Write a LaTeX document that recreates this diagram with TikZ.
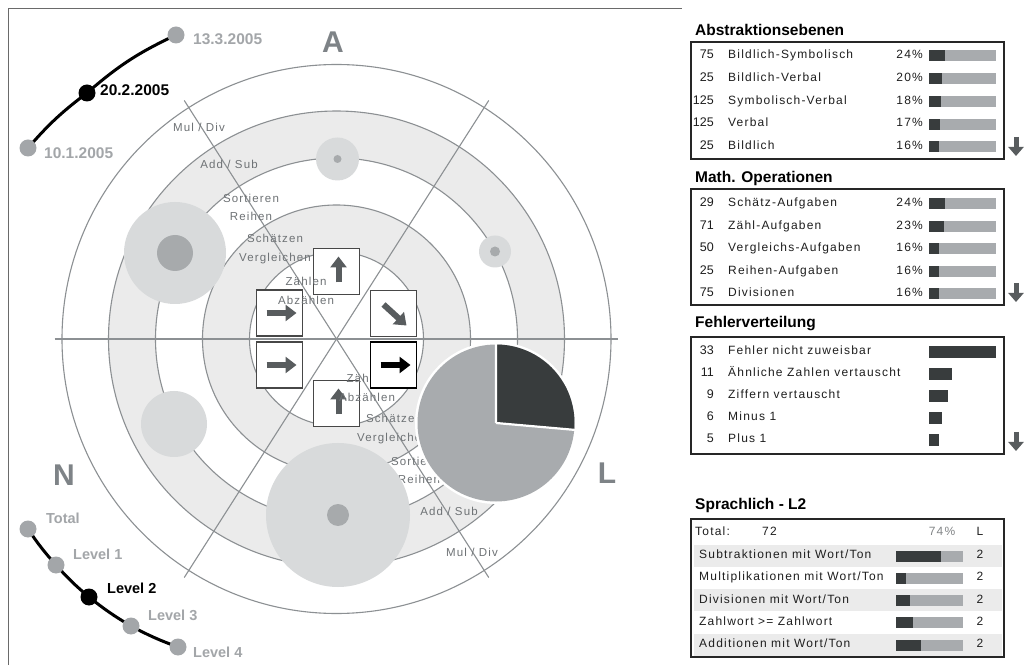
\documentclass[tikz,border=0pt]{standalone}
\usepackage{fontspec}
\setmainfont{Liberation Sans}
\newfontfamily\tsp[LetterSpace=10]{Liberation Sans}
\usetikzlibrary{arrows.meta}
\definecolor{ringline}{HTML}{8C9093}
\definecolor{band}{HTML}{EBEBEB}
\definecolor{bubble}{HTML}{D8DADB}
\definecolor{bubin}{HTML}{A7AAAC}
\definecolor{piedark}{HTML}{383C3D}
\definecolor{pielight}{HTML}{A8ABAE}
\definecolor{arrgray}{HTML}{585C5E}
\definecolor{bigl}{HTML}{7E8387}
\definecolor{dgray}{HTML}{A3A6A9}
\definecolor{ringtext}{HTML}{6E7275}
\definecolor{tabtext}{HTML}{1E1E1E}
\definecolor{rowbg}{HTML}{EBEBEB}
\definecolor{framecol}{HTML}{6A6A6A}
\newcommand\slh{/}
\begin{document}
\begin{tikzpicture}[x=1pt,y=1pt,
  ringc/.style={draw=ringline, line width=1.1pt},
  rlbl/.style={font=\tsp\fontsize{11.5}{13}\selectfont, text=ringtext, inner sep=0pt, anchor=mid},
  abox/.style={draw=black!72, line width=1.2pt, fill=white, minimum size=46pt, inner sep=0pt},
  hbox/.style={draw=black, line width=1.8pt, fill=white, minimum size=46pt, inner sep=0pt},
  arr/.style={draw=arrgray, line width=6pt, -{Triangle[width=16pt,length=11pt]}},
  harr/.style={draw=black, line width=6pt, -{Triangle[width=16pt,length=11pt]}},
  biglbl/.style={font=\bfseries\fontsize{30}{32}\selectfont, text=bigl, inner sep=0pt},
  gdot/.style={circle, fill=dgray, minimum size=17pt, inner sep=0pt},
  bdot/.style={circle, fill=black, minimum size=17pt, inner sep=0pt},
  datel/.style={font=\bfseries\fontsize{15.5}{17}\selectfont, text=dgray, anchor=mid west, inner sep=0pt},
  levl/.style={font=\bfseries\fontsize{14.5}{17}\selectfont, text=dgray, anchor=mid west, inner sep=0pt},
  ttl/.style={font=\bfseries\fontsize{15.5}{17}\selectfont, text=black, anchor=mid west, inner sep=0pt},
  tabt/.style={font=\tsp\fontsize{12}{14}\selectfont, text=tabtext, inner sep=0pt},
  tabn/.style={font=\fontsize{12.5}{14}\selectfont, text=tabtext, inner sep=0pt, anchor=mid east},
  tbox/.style={draw=black!85, line width=1.2pt},
  downarr/.style={draw=arrgray, line width=5pt, -{Triangle[width=15pt,length=9pt]}},
  curve/.style={draw=black, line width=3pt},
]
\useasboundingbox (0,0) rectangle (1029,665);
\fill[white] (0,0) rectangle (1029,665);
\draw[framecol, line width=1pt] (8,0) -- (8,656) -- (682,656);

% ---------- target ----------
\coordinate (C) at (336.5,326);
\fill[band, even odd rule] (C) circle (228) (C) circle (181);
\fill[band, even odd rule] (C) circle (134) (C) circle (87);
\foreach \r in {87,134,181,228,274.5} \draw[ringc] (C) circle (\r);
\draw[ringc] (C) +(180:282) -- +(0:281);
\draw[ringc] (C) +(122.55:283) -- +(-57.45:283);
\draw[ringc] (C) +(57.45:283) -- +(237.45:283);

% arrow boxes
\node[abox] (b1) at (336.5,393.5) {};
\node[abox] (b2) at (279.5,352) {};
\node[abox] (b3) at (393.5,351.5) {};
\node[abox] (b4) at (279.5,300) {};
\node[abox] (b6) at (336.5,261.5) {};
\draw[arr] ([shift={(2,-11)}]b1.center) -- ([shift={(2,15)}]b1.center);
\draw[arr] ([shift={(-13,0)}]b2.center) -- ([shift={(17,0)}]b2.center);
\draw[arr] ([shift={(-10,9)}]b3.center) -- ([shift={(13,-12)}]b3.center);
\draw[arr] ([shift={(-13,0)}]b4.center) -- ([shift={(17,0)}]b4.center);
\draw[arr] ([shift={(2,-11)}]b6.center) -- ([shift={(2,15)}]b6.center);

% ring labels
\node[rlbl] (u1) at (199,536) {Mul / Div};
\node[rlbl] (u2) at (229,499) {Add / Sub};
\node[rlbl] (u3) at (251,465) {Sortieren};
\node[rlbl] (u4) at (251,447) {Reihen};
\node[rlbl] (u5) at (275,425) {Schätzen};
\node[rlbl] (u6) at (275,406) {Vergleichen};
\node[rlbl] (u7) at (306,382) {Zählen};
\node[rlbl] (u8) at (306,363) {Abzählen};
\node[rlbl] (w7) at (367,285) {Zählen};
\node[rlbl] (w8) at (367,266) {Abzählen};
\node[rlbl] (w5) at (394,245) {Schätzen};
\node[rlbl] (w6) at (393,226) {Vergleichen};
\node[rlbl] (w3) at (419,202) {Sortieren};
\node[rlbl] (w4) at (419,184) {Reihen};
\node[rlbl] (w2) at (449,152) {Add / Sub};
\node[rlbl] (w1) at (472,111) {Mul / Div};

% bubbles
\fill[bubble] (337.5,506) circle (21.5);
\fill[bubin] (337.5,506) circle (4);
\fill[bubble] (175,412) circle (51);
\fill[bubin] (175,412) circle (18);
\fill[bubble] (495,413.5) circle (16);
\fill[bubin] (495,413.5) circle (5);
\fill[bubble] (174,241) circle (33);
\fill[bubble] (338,150) circle (72);
\fill[bubin] (338,150) circle (11);

% highlighted box
\node[hbox] (b5) at (393.5,300) {};
\draw[harr] ([shift={(-13,0)}]b5.center) -- ([shift={(17,0)}]b5.center);

% pie
\coordinate (P) at (496,242);
\fill[white] (P) circle (81);
\fill[pielight] (P) circle (78.5);
\fill[piedark] (P) -- ++(90:78.5) arc[start angle=90, end angle=-5, radius=78.5] -- cycle;
\draw[white, line width=2.2pt] (P) -- ++(90:80) (P) -- ++(-5:80);

% sector letters
\node[biglbl] (lA) at (333,623) {A};
\node[biglbl] (lN) at (64,190) {N};
\node[biglbl] (lL) at (607,192) {L};

% dates
\coordinate (t1) at (176,630);
\coordinate (t2) at (87,572);
\coordinate (t3) at (28,517);
\draw[curve] (t1) to[bend right=8] (t2) to[bend right=6] (t3);
\node[gdot] (t1d) at (t1) {};
\node[bdot] (t2d) at (t2) {};
\node[gdot] (t3d) at (t3) {};
\node[datel] (t1l) at (193,623) {13.3.2005};
\node[datel, text=black] (t2l) at (100,572) {20.2.2005};
\node[datel] (t3l) at (44,509) {10.1.2005};

% levels
\coordinate (v0) at (28,136);
\coordinate (v1) at (56,100);
\coordinate (v2) at (89,68);
\coordinate (v3) at (131,39);
\coordinate (v4) at (178,18);
\draw[curve] (v0) to[bend right=4] (v1) to[bend right=4] (v2) to[bend right=4] (v3) to[bend right=4] (v4);
\node[gdot] (v0d) at (v0) {};
\node[gdot] (v1d) at (v1) {};
\node[bdot] (v2d) at (v2) {};
\node[gdot] (v3d) at (v3) {};
\node[gdot] (v4d) at (v4) {};
\node[levl] (v0l) at (46,144) {Total};
\node[levl] (v1l) at (73,108) {Level 1};
\node[levl, text=black] (v2l) at (107,74) {Level 2};
\node[levl] (v3l) at (148,47) {Level 3};
\node[levl] (v4l) at (193,10) {Level 4};

% ---------- right panel ----------
% Abstraktionsebenen
\node[ttl] (h1) at (695,632) {Abstraktionsebenen};
\draw[tbox] (691,506) rectangle (1004,623);
\foreach \n/\t/\p/\w [count=\i from 0] in {75/Bildlich-Symbolisch/24/16, 25/Bildlich-Verbal/20/13, 125/Symbolisch-Verbal/18/12, 125/Verbal/17/11, 25/Bildlich/16/10}{
  \pgfmathsetmacro\yy{609-22.75*\i}
  \node[tabn] (an\i) at (714,\yy) {\n};
  \node[tabt, anchor=mid west] (at\i) at (728,\yy) {\t};
  \node[tabt, anchor=mid east] (ap\i) at (923,\yy) {\p\%};
  \fill[pielight] (929,\yy-5.5) rectangle (996,\yy+5.5);
  \fill[piedark] (929,\yy-5.5) rectangle ++(\w,11);
}
\draw[downarr] (1016,528) -- (1016,509);

% Math. Operationen
\node[ttl] (h2) at (695,485) {Math. Operationen};
\draw[tbox] (691,360) rectangle (1004,476);
\foreach \n/\t/\p/\w [count=\i from 0] in {29/Schätz-Aufgaben/24/16, 71/Zähl-Aufgaben/23/15, 50/Vergleichs-Aufgaben/16/10, 25/Reihen-Aufgaben/16/10, 75/Divisionen/16/10}{
  \pgfmathsetmacro\yy{461-22.5*\i}
  \node[tabn] (mn\i) at (714,\yy) {\n};
  \node[tabt, anchor=mid west] (mt\i) at (728,\yy) {\t};
  \node[tabt, anchor=mid east] (mp\i) at (923,\yy) {\p\%};
  \fill[pielight] (929,\yy-5.5) rectangle (996,\yy+5.5);
  \fill[piedark] (929,\yy-5.5) rectangle ++(\w,11);
}
\draw[downarr] (1016,382) -- (1016,363);

% Fehlerverteilung
\node[ttl] (h3) at (695,340) {Fehlerverteilung};
\draw[tbox] (691,211) rectangle (1004,328);
\foreach \n/\t/\w [count=\i from 0] in {33/Fehler nicht zuweisbar/67, 11/Ähnliche Zahlen vertauscht/23, 9/Ziffern vertauscht/19, 6/Minus 1/13, 5/Plus 1/10}{
  \pgfmathsetmacro\yy{313-22*\i}
  \node[tabn] (fn\i) at (714,\yy) {\n};
  \node[tabt, anchor=mid west] (ft\i) at (728,\yy) {\t};
  \fill[piedark] (929,\yy-6) rectangle ++(\w,12);
}
\draw[downarr] (1016,233) -- (1016,214);

% Sprachlich - L2
\node[ttl] (h4) at (695,158) {Sprachlich - L2};
\draw[tbox] (691,8) rectangle (1004,146);
\fill[rowbg] (694,98) rectangle (1002,120.5);
\fill[rowbg] (694,54) rectangle (1002,76);
\fill[rowbg] (694,9.5) rectangle (1002,31);
\node[tabt, anchor=mid west] (s0a) at (695,132) {Total:};
\node[tabt, anchor=mid west] (s0b) at (762,132) {72};
\node[tabt, text=dgray!80!black, anchor=mid] (s0c) at (942,132) {74\%};
\node[tabt, anchor=mid] (s0d) at (980,132) {L};
\foreach \t/\w [count=\i from 1] in {Subtraktionen mit Wort\slh Ton/45, Multiplikationen mit Wort\slh Ton/10, Divisionen mit Wort\slh Ton/14, Zahlwort >= Zahlwort/17, Additionen mit Wort\slh Ton/25}{
  \pgfmathsetmacro\yy{109-22.25*(\i-1)}
  \node[tabt, anchor=mid west] (st\i) at (699,\yy) {\t};
  \fill[pielight] (896,\yy-5.5) rectangle (963,\yy+5.5);
  \fill[piedark] (896,\yy-5.5) rectangle ++(\w,11);
  \node[tabt, anchor=mid] (sl\i) at (980,\yy) {2};
}
\end{tikzpicture}
\end{document}
